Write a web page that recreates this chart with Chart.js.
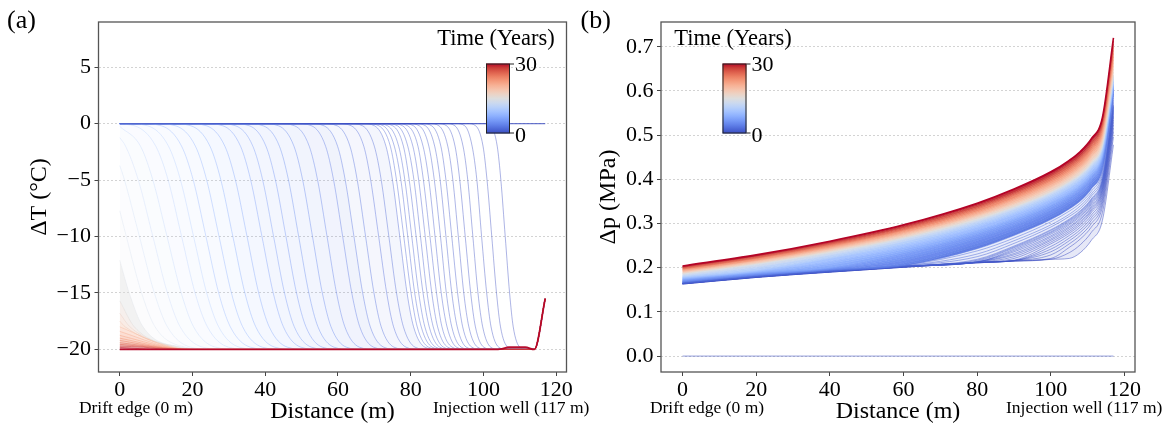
<!DOCTYPE html>
<html><head><meta charset="utf-8">
<script src="https://cdn.jsdelivr.net/npm/chart.js@4.4.1/dist/chart.umd.min.js"></script>
<style>
html,body{margin:0;padding:0;background:#fff;}
#wrap{position:relative;width:1165px;height:427px;overflow:hidden;background:#fff;}
#ca{position:absolute;left:0;top:0;}
#cb{position:absolute;left:580px;top:0;}
</style></head><body>
<div id="wrap"><canvas id="ca" width="600" height="427"></canvas><canvas id="cb" width="585" height="427"></canvas></div>
<script>
// ---------- data ----------
const X_TICKS = [0, 20, 40, 60, 80, 100, 120];
const T_TICKS = [-20, -15, -10, -5, 0, 5];
const P_TICKS = [0, 0.1, 0.2, 0.3, 0.4, 0.5, 0.6, 0.7];
const CB_TICKS = [0, 30];

// profile times (years), shared by both panels
const TIMES = [0.083, 0.167, 0.25, 0.333, 0.417, 0.5, 0.583, 0.667, 0.75, 0.833, 0.917, 1.0, 1.083, 1.167, 1.25, 1.333, 1.417, 1.5,
  1.75, 2.0, 2.333, 2.667, 3.0, 3.5, 4.0, 4.5, 5.0, 5.5, 6.0, 6.667, 7.333, 8.0, 8.667, 9.333, 10.0, 10.833, 11.667, 12.5, 13.333, 14.167, 15.0,
  16.25, 17.5, 18.75, 20.0, 21.25, 22.5, 23.75, 25.0, 26.25, 27.5, 28.75, 30.0];

// initial state (t = 0)
const INIT_X = [0, 117];
const INIT_T = [0, 0];
const INIT_P = [0, 0];

// (a) temperature change: distance (m) at which each profile passes these levels (°C)
const T_LEVELS = [0, -0.2, -2, -5, -10, -15, -18, -19.8, -20];
const T_X = [
  [100, 102, 103.8, 104.8, 106, 107.2, 108.2, 110, 112],
  [95.7, 97.9, 99.9, 101.0, 102.3, 103.6, 104.7, 106.7, 108.9],
  [92.5, 94.9, 96.9, 98.2, 99.5, 100.9, 102.1, 104.2, 106.5],
  [89.8, 92.2, 94.4, 95.7, 97.1, 98.5, 99.8, 102.0, 104.4],
  [87.4, 89.9, 92.2, 93.5, 95.0, 96.5, 97.8, 100.1, 102.7],
  [85.2, 87.8, 90.2, 91.6, 93.1, 94.6, 96.0, 98.4, 101.0],
  [83.1, 85.8, 88.3, 89.7, 91.3, 92.9, 94.3, 96.8, 99.5],
  [81.3, 84.1, 86.6, 88.1, 89.7, 91.3, 92.8, 95.3, 98.2],
  [79.5, 82.4, 85.0, 86.5, 88.2, 89.8, 91.3, 93.9, 96.8],
  [77.8, 80.8, 83.4, 85.0, 86.7, 88.4, 90.0, 92.6, 95.6],
  [76.2, 79.2, 82.0, 83.5, 85.3, 87.1, 88.6, 91.4, 94.4],
  [74.7, 77.8, 80.6, 82.2, 84.0, 85.8, 87.4, 90.2, 93.3],
  [73.2, 76.4, 79.2, 80.9, 82.7, 84.5, 86.2, 89.0, 92.2],
  [71.8, 75.1, 78.0, 79.6, 81.5, 83.4, 85.1, 88.0, 91.2],
  [70.4, 73.7, 76.7, 78.4, 80.3, 82.2, 83.9, 86.9, 90.2],
  [69.2, 72.5, 75.5, 77.3, 79.2, 81.1, 82.9, 85.9, 89.2],
  [67.9, 71.3, 74.4, 76.1, 78.1, 80.1, 81.8, 84.9, 88.3],
  [66.7, 70.1, 73.2, 75.0, 77.0, 79.0, 80.8, 83.9, 87.4],
  [63.2, 66.8, 70.0, 71.9, 74.0, 76.1, 78.0, 81.2, 84.8],
  [60.0, 63.7, 67.1, 69.0, 71.2, 73.4, 75.3, 78.7, 82.4],
  [55.8, 59.8, 63.3, 65.3, 67.6, 69.9, 71.9, 75.4, 79.4],
  [52.2, 56.2, 59.9, 62.0, 64.4, 66.8, 68.9, 72.6, 76.6],
  [48.6, 52.8, 56.6, 58.8, 61.3, 63.8, 66.0, 69.8, 74.0],
  [43.6, 48.1, 52.1, 54.4, 57.0, 59.6, 61.9, 65.9, 70.4],
  [39.0, 43.7, 47.9, 50.3, 53.0, 55.7, 58.1, 62.3, 67.0],
  [34.7, 39.5, 43.9, 46.4, 49.2, 52.0, 54.5, 58.9, 63.7],
  [30.7, 35.7, 40.2, 42.8, 45.7, 48.6, 51.2, 55.7, 60.8],
  [26.7, 31.9, 36.6, 39.3, 42.3, 45.3, 48.0, 52.7, 57.9],
  [23.1, 28.4, 33.2, 36.0, 39.1, 42.2, 45.0, 49.8, 55.1],
  [18.4, 23.9, 28.9, 31.8, 35.0, 38.2, 41.1, 46.1, 51.7],
  [13.9, 19.6, 24.8, 27.8, 31.1, 34.4, 37.4, 42.6, 48.3],
  [9.5, 15.4, 20.8, 23.9, 27.3, 30.7, 33.8, 39.2, 45.1],
  [5.4, 11.5, 17.0, 20.2, 23.7, 27.2, 30.4, 35.9, 42.1],
  [1.4, 7.7, 13.4, 16.7, 20.3, 23.9, 27.2, 32.9, 39.2],
  [null, 4.1, 9.9, 13.3, 17.0, 20.7, 24.1, 29.9, 36.4],
  [null, null, 5.7, 9.1, 13.0, 16.9, 20.3, 26.3, 33.0],
  [null, null, 1.6, 5.1, 9.1, 13.1, 16.6, 22.8, 29.6],
  [null, null, null, 1.3, 5.4, 9.5, 13.1, 19.5, 26.5],
  [null, null, null, null, 1.8, 6.0, 9.7, 18.0, 25.0],
  [null, null, null, null, null, 2.6, 6.4, 17.0, 24.0],
  [null, null, null, null, null, null, 4.0, 16.0, 23.0],
  [null, null, null, null, null, null, 2.8, 15.0, 22.0],
  [null, null, null, null, null, null, 1.5, 14.5, 21.5],
  [null, null, null, null, null, null, null, 14.0, 21.0],
  [null, null, null, null, null, null, null, 13.5, 20.5],
  [null, null, null, null, null, null, null, 13.0, 20.0],
  [null, null, null, null, null, null, null, 12.0, 19.0],
  [null, null, null, null, null, null, null, 11.0, 18.0],
  [null, null, null, null, null, null, null, 10.0, 17.0],
  [null, null, null, null, null, null, null, 8.5, 15.5],
  [null, null, null, null, null, null, null, 6.5, 13.5],
  [null, null, null, null, null, null, null, null, 11.0],
  [null, null, null, null, null, null, null, null, null]
];
// ΔT at the drift edge (x = 0) for each profile
const T_EDGE = [0,0,0,0,0,0,0,0,0,0,0,0,0,0,0,0,0,0, 0,0,0,0,0,0,0,0,0,0,0,0,0,0,0,0,
  -0.05, -0.25, -1.24, -3.72, -7.72, -12.1, -15.7, -16.8, -17.5, -18.0, -18.4, -18.75, -19.0, -19.2, -19.4, -19.55, -19.7, -19.82, -20];
// near the injection well
const WELL_X = [114, 117];
const WELL_T = [-20, -15.5];
const LAST_TAIL_X = [103, 105, 107, 111.5, 114, 117];
const LAST_TAIL_T = [-20, -19.95, -19.8, -19.8, -20, -15.5];

// (b) pressure change (MPa) on this distance grid (m)
const X_P = [0, 20, 40, 60, 80, 90, 100, 105, 108, 111, 114, 117];
const P_ROWS = [
  [0.163, 0.178, 0.190, 0.201, 0.211, 0.215, 0.219, 0.221, 0.234, 0.262, 0.307, 0.478],
  [0.163, 0.178, 0.190, 0.201, 0.211, 0.215, 0.219, 0.234, 0.252, 0.280, 0.325, 0.496],
  [0.163, 0.178, 0.190, 0.201, 0.211, 0.215, 0.221, 0.246, 0.265, 0.292, 0.338, 0.508],
  [0.164, 0.179, 0.191, 0.202, 0.212, 0.216, 0.229, 0.254, 0.273, 0.300, 0.346, 0.516],
  [0.164, 0.179, 0.191, 0.202, 0.212, 0.216, 0.236, 0.261, 0.280, 0.307, 0.353, 0.523],
  [0.164, 0.179, 0.191, 0.202, 0.212, 0.216, 0.242, 0.267, 0.286, 0.313, 0.359, 0.529],
  [0.164, 0.179, 0.191, 0.202, 0.212, 0.216, 0.248, 0.273, 0.292, 0.319, 0.365, 0.534],
  [0.164, 0.179, 0.191, 0.202, 0.212, 0.217, 0.254, 0.278, 0.297, 0.325, 0.370, 0.540],
  [0.164, 0.179, 0.191, 0.202, 0.212, 0.221, 0.258, 0.282, 0.301, 0.329, 0.374, 0.543],
  [0.164, 0.179, 0.191, 0.202, 0.212, 0.225, 0.262, 0.286, 0.305, 0.332, 0.378, 0.547],
  [0.165, 0.180, 0.192, 0.203, 0.213, 0.229, 0.265, 0.290, 0.309, 0.336, 0.381, 0.551],
  [0.165, 0.180, 0.192, 0.203, 0.213, 0.232, 0.269, 0.293, 0.312, 0.339, 0.385, 0.554],
  [0.165, 0.180, 0.192, 0.203, 0.213, 0.236, 0.272, 0.297, 0.316, 0.343, 0.388, 0.557],
  [0.165, 0.180, 0.192, 0.203, 0.213, 0.239, 0.276, 0.300, 0.319, 0.346, 0.391, 0.560],
  [0.165, 0.180, 0.192, 0.203, 0.213, 0.242, 0.279, 0.303, 0.322, 0.349, 0.394, 0.563],
  [0.165, 0.180, 0.192, 0.203, 0.215, 0.245, 0.281, 0.306, 0.324, 0.352, 0.396, 0.565],
  [0.165, 0.180, 0.192, 0.203, 0.217, 0.247, 0.284, 0.308, 0.327, 0.354, 0.399, 0.567],
  [0.165, 0.180, 0.192, 0.203, 0.219, 0.249, 0.286, 0.310, 0.329, 0.356, 0.401, 0.569],
  [0.166, 0.181, 0.193, 0.204, 0.225, 0.255, 0.292, 0.316, 0.334, 0.362, 0.406, 0.574],
  [0.166, 0.181, 0.193, 0.204, 0.231, 0.261, 0.297, 0.321, 0.340, 0.367, 0.412, 0.579],
  [0.167, 0.182, 0.194, 0.205, 0.238, 0.267, 0.304, 0.328, 0.346, 0.373, 0.418, 0.584],
  [0.167, 0.182, 0.194, 0.205, 0.243, 0.273, 0.309, 0.333, 0.351, 0.378, 0.422, 0.589],
  [0.168, 0.183, 0.195, 0.206, 0.249, 0.278, 0.314, 0.338, 0.357, 0.383, 0.427, 0.593],
  [0.169, 0.184, 0.196, 0.210, 0.255, 0.284, 0.320, 0.344, 0.362, 0.389, 0.433, 0.597],
  [0.169, 0.184, 0.196, 0.216, 0.261, 0.290, 0.325, 0.349, 0.367, 0.394, 0.437, 0.601],
  [0.170, 0.185, 0.197, 0.221, 0.266, 0.295, 0.330, 0.353, 0.371, 0.398, 0.441, 0.604],
  [0.171, 0.186, 0.198, 0.225, 0.270, 0.298, 0.333, 0.357, 0.375, 0.401, 0.444, 0.606],
  [0.172, 0.187, 0.199, 0.230, 0.274, 0.302, 0.337, 0.360, 0.378, 0.404, 0.447, 0.608],
  [0.173, 0.188, 0.200, 0.233, 0.277, 0.305, 0.340, 0.363, 0.381, 0.407, 0.450, 0.610],
  [0.174, 0.189, 0.205, 0.237, 0.281, 0.309, 0.343, 0.366, 0.384, 0.410, 0.452, 0.611],
  [0.175, 0.190, 0.209, 0.241, 0.284, 0.312, 0.347, 0.369, 0.387, 0.412, 0.454, 0.612],
  [0.176, 0.191, 0.213, 0.245, 0.287, 0.315, 0.349, 0.372, 0.389, 0.415, 0.456, 0.613],
  [0.177, 0.192, 0.216, 0.248, 0.291, 0.319, 0.353, 0.375, 0.393, 0.418, 0.460, 0.616],
  [0.178, 0.193, 0.220, 0.252, 0.294, 0.322, 0.356, 0.379, 0.396, 0.422, 0.463, 0.620],
  [0.179, 0.195, 0.222, 0.254, 0.297, 0.325, 0.359, 0.381, 0.399, 0.424, 0.466, 0.622],
  [0.180, 0.198, 0.225, 0.258, 0.300, 0.328, 0.362, 0.385, 0.402, 0.427, 0.469, 0.626],
  [0.182, 0.201, 0.228, 0.260, 0.303, 0.331, 0.365, 0.387, 0.405, 0.430, 0.472, 0.628],
  [0.183, 0.203, 0.230, 0.263, 0.305, 0.333, 0.367, 0.390, 0.407, 0.432, 0.474, 0.631],
  [0.184, 0.206, 0.233, 0.265, 0.307, 0.335, 0.369, 0.392, 0.409, 0.434, 0.476, 0.633],
  [0.186, 0.208, 0.234, 0.267, 0.309, 0.337, 0.371, 0.394, 0.411, 0.436, 0.478, 0.635],
  [0.187, 0.209, 0.236, 0.268, 0.311, 0.338, 0.372, 0.395, 0.412, 0.438, 0.479, 0.636],
  [0.188, 0.210, 0.238, 0.270, 0.314, 0.342, 0.376, 0.399, 0.417, 0.442, 0.484, 0.643],
  [0.190, 0.212, 0.240, 0.273, 0.317, 0.345, 0.380, 0.403, 0.421, 0.447, 0.490, 0.650],
  [0.191, 0.214, 0.242, 0.275, 0.319, 0.348, 0.383, 0.407, 0.425, 0.451, 0.494, 0.657],
  [0.193, 0.216, 0.244, 0.278, 0.322, 0.352, 0.387, 0.411, 0.429, 0.456, 0.500, 0.664],
  [0.194, 0.217, 0.246, 0.280, 0.325, 0.355, 0.391, 0.415, 0.433, 0.460, 0.505, 0.671],
  [0.196, 0.219, 0.248, 0.283, 0.328, 0.358, 0.395, 0.419, 0.438, 0.465, 0.510, 0.678],
  [0.197, 0.221, 0.250, 0.285, 0.331, 0.362, 0.398, 0.423, 0.442, 0.469, 0.515, 0.685],
  [0.198, 0.222, 0.252, 0.287, 0.334, 0.365, 0.402, 0.427, 0.446, 0.474, 0.520, 0.692],
  [0.200, 0.224, 0.254, 0.290, 0.337, 0.368, 0.406, 0.431, 0.450, 0.478, 0.525, 0.699],
  [0.201, 0.226, 0.256, 0.292, 0.340, 0.371, 0.409, 0.435, 0.454, 0.483, 0.530, 0.706],
  [0.203, 0.227, 0.258, 0.295, 0.343, 0.375, 0.413, 0.439, 0.459, 0.487, 0.535, 0.713],
  [0.204, 0.229, 0.260, 0.297, 0.346, 0.378, 0.417, 0.443, 0.463, 0.492, 0.540, 0.720]
];

// ---------- style ----------
const SERIF = '"Liberation Serif", "Times New Roman", serif';
Chart.defaults.font.family = SERIF;
const COOLWARM = [[59,76,192],[77,104,215],[98,130,234],[119,154,247],[141,176,254],[163,194,255],[184,208,249],[204,217,238],[221,221,221],[236,211,197],[245,196,173],[247,177,149],[244,154,123],[236,127,99],[222,96,77],[203,62,56],[180,4,38]];
function cw(f){ f=Math.max(0,Math.min(1,f)); const p=f*(COOLWARM.length-1); const i=Math.min(Math.floor(p),COOLWARM.length-2); const u=p-i; const a=COOLWARM[i], b=COOLWARM[i+1]; return [0,1,2].map(k=>Math.round(a[k]+(b[k]-a[k])*u)); }
function rgba(c,a){ return 'rgba('+c[0]+','+c[1]+','+c[2]+','+a+')'; }
const TMAX = CB_TICKS[1];

function fillAlphaA(t){ return t < 3 ? 0.06 : t < 8 ? 0.09 : t < 15 ? 0.07 : 0.38; }
function lineAlphaA(t){ return t < 9 ? 0.42 : t < 15 ? 0.3 : 0.55; }

// ---------- datasets (a) ----------
const dsA = [{
  data: INIT_X.map((x,j)=>({x:x, y:INIT_T[j]})),
  borderColor: rgba(cw(0),0.75), borderWidth: 1.3, fill:false, order:-1000
}];
TIMES.forEach((t,i)=>{
  const pts=[{x:0, y:T_EDGE[i]}];
  T_X[i].forEach((x,j)=>{ if(x!==null && x>0) pts.push({x:x, y:T_LEVELS[j]}); });
  const last = i===TIMES.length-1;
  const tx = last ? LAST_TAIL_X : WELL_X, ty = last ? LAST_TAIL_T : WELL_T;
  tx.forEach((x,j)=>pts.push({x:x, y:ty[j]}));
  const c = cw(t/TMAX);
  const doFill = t >= 1.75;
  dsA.push({
    data: pts,
    borderColor: last ? rgba(c,0.95) : rgba(c, lineAlphaA(t)),
    borderWidth: last ? 1.8 : 1,
    backgroundColor: rgba(c, fillAlphaA(t)),
    fill: doFill ? '-1' : false,
    order: -i
  });
});

// ---------- datasets (b) ----------
const dsB = [{
  data: INIT_X.map((x,j)=>({x:x, y:INIT_P[j]})),
  borderColor: rgba(cw(0),0.55), borderWidth: 1, fill:false, order:1
}];
TIMES.forEach((t,i)=>{
  const c = cw(t/TMAX);
  const last = i===TIMES.length-1;
  dsB.push({
    data: X_P.map((x,j)=>({x:x, y:P_ROWS[i][j]})),
    borderColor: last ? rgba(c,1) : rgba(c, t<3 ? 0.5 : 0.8),
    borderWidth: last ? 1.6 : 1,
    backgroundColor: rgba(c, t<3 ? 0.13 : 0.95),
    fill: i===0 ? false : '-1',
    order: -i
  });
});

// ---------- decorations ----------
function deco(cfg){
  return {
    id:'deco',
    afterDraw(chart){
      const ctx=chart.ctx, a=chart.chartArea;
      ctx.save();
      ctx.strokeStyle='#555'; ctx.lineWidth=1.3;
      ctx.strokeRect(a.left, a.top, a.right-a.left, a.bottom-a.top);
      const cb=cfg.cb;
      const g=ctx.createLinearGradient(0, cb.y+cb.h, 0, cb.y);
      COOLWARM.forEach((c,i)=>g.addColorStop(i/(COOLWARM.length-1), rgba(c,1)));
      ctx.fillStyle=g; ctx.fillRect(cb.x, cb.y, cb.w, cb.h);
      ctx.strokeStyle='#222'; ctx.lineWidth=1;
      ctx.strokeRect(cb.x+0.5, cb.y+0.5, cb.w-1, cb.h-1);
      ctx.beginPath();
      ctx.moveTo(cb.x+cb.w, cb.y+0.5); ctx.lineTo(cb.x+cb.w+4, cb.y+0.5);
      ctx.moveTo(cb.x+cb.w, cb.y+cb.h-0.5); ctx.lineTo(cb.x+cb.w+4, cb.y+cb.h-0.5);
      ctx.stroke();
      ctx.fillStyle='#000'; ctx.textBaseline='middle';
      ctx.font='22px '+SERIF; ctx.textAlign='left';
      ctx.fillText(String(CB_TICKS[1]), cb.x+cb.w+5, cb.y+1.5);
      ctx.fillText(String(CB_TICKS[0]), cb.x+cb.w+5, cb.y+cb.h+2.5);
      ctx.font='22.5px '+SERIF; ctx.textAlign='center';
      ctx.fillText('Time (Years)', cb.tx, cb.ty);
      ctx.font='17.5px '+SERIF;
      ctx.textAlign='center'; ctx.fillText('Drift edge (0 m)', cfg.drift, 408);
      ctx.textAlign='left'; ctx.fillText('Injection well (117 m)', cfg.well, 408);
      ctx.font='26px '+SERIF; ctx.textAlign='left';
      ctx.fillText(cfg.panel, cfg.px, 21);
      ctx.restore();
    }
  };
}

function axisX(){
  return {
    type:'linear', min:-5.85, max:122.85,
    afterBuildTicks: s=>{ s.ticks = X_TICKS.map(v=>({value:v})); },
    afterFit: s=>{ s.height = 55; },
    grid:{drawOnChartArea:false, drawTicks:true, tickLength:4, tickColor:'#444', tickWidth:1},
    border:{display:false},
    ticks:{font:{family:SERIF,size:22}, color:'#000', padding:1, maxRotation:0, autoSkip:false, callback:v=>String(v)},
    title:{display:true, text:'Distance (m)', font:{family:SERIF,size:24}, color:'#000', padding:{top:0,bottom:0.6}}
  };
}

function axisY(min, max, ticks, fmt, width, title, titlePad){
  return {
    type:'linear', min:min, max:max,
    afterBuildTicks: s=>{ s.ticks = ticks.map(v=>({value:v})); },
    afterFit: s=>{ s.width = width; },
    grid:{color:'rgba(0,0,0,0.22)', lineWidth:0.8, drawTicks:true, tickLength:4, tickColor:'#444', tickWidth:1, tickBorderDash:[]},
    border:{display:false, dash:[2,2]},
    ticks:{font:{family:SERIF,size:22}, color:'#000', padding:3.5, autoSkip:false, callback:fmt},
    title:{display:true, text:title, font:{family:SERIF,size:24}, color:'#000', padding:{top:titlePad,bottom:0}}
  };
}

function makeChart(id, datasets, yopt, padRight, cfg){
  return new Chart(document.getElementById(id), {
    type:'line',
    data:{datasets:datasets},
    options:{
      responsive:false, animation:false, events:[],
      layout:{padding:{left:0, right:padRight, top:22, bottom:0}},
      elements:{point:{radius:0}, line:{cubicInterpolationMode:'monotone', borderWidth:1}},
      plugins:{legend:{display:false}, tooltip:{enabled:false}, filler:{propagate:false}},
      scales:{ x: axisX(), y: yopt }
    },
    plugins:[deco(cfg)]
  });
}

makeChart('ca', dsA,
  axisY(-22, 9, T_TICKS, v=> v<0 ? '\u2212'+Math.abs(v) : String(v), 98.5, '\u0394T (\u00B0C)', 25.6),
  33.5,
  {cb:{x:486, y:63.5, w:24, h:70, tx:496, ty:39.5}, drift:136, well:433, panel:'(a)', px:7});

makeChart('cb', dsB,
  axisY(-0.036, 0.756, P_TICKS, v=> Number(v).toFixed(1), 81, '\u0394p (MPa)', 14.6),
  30,
  {cb:{x:142.5, y:63.5, w:24, h:70, tx:153, ty:39.5}, drift:127, well:426, panel:'(b)', px:0.5});
</script>
</body></html>
